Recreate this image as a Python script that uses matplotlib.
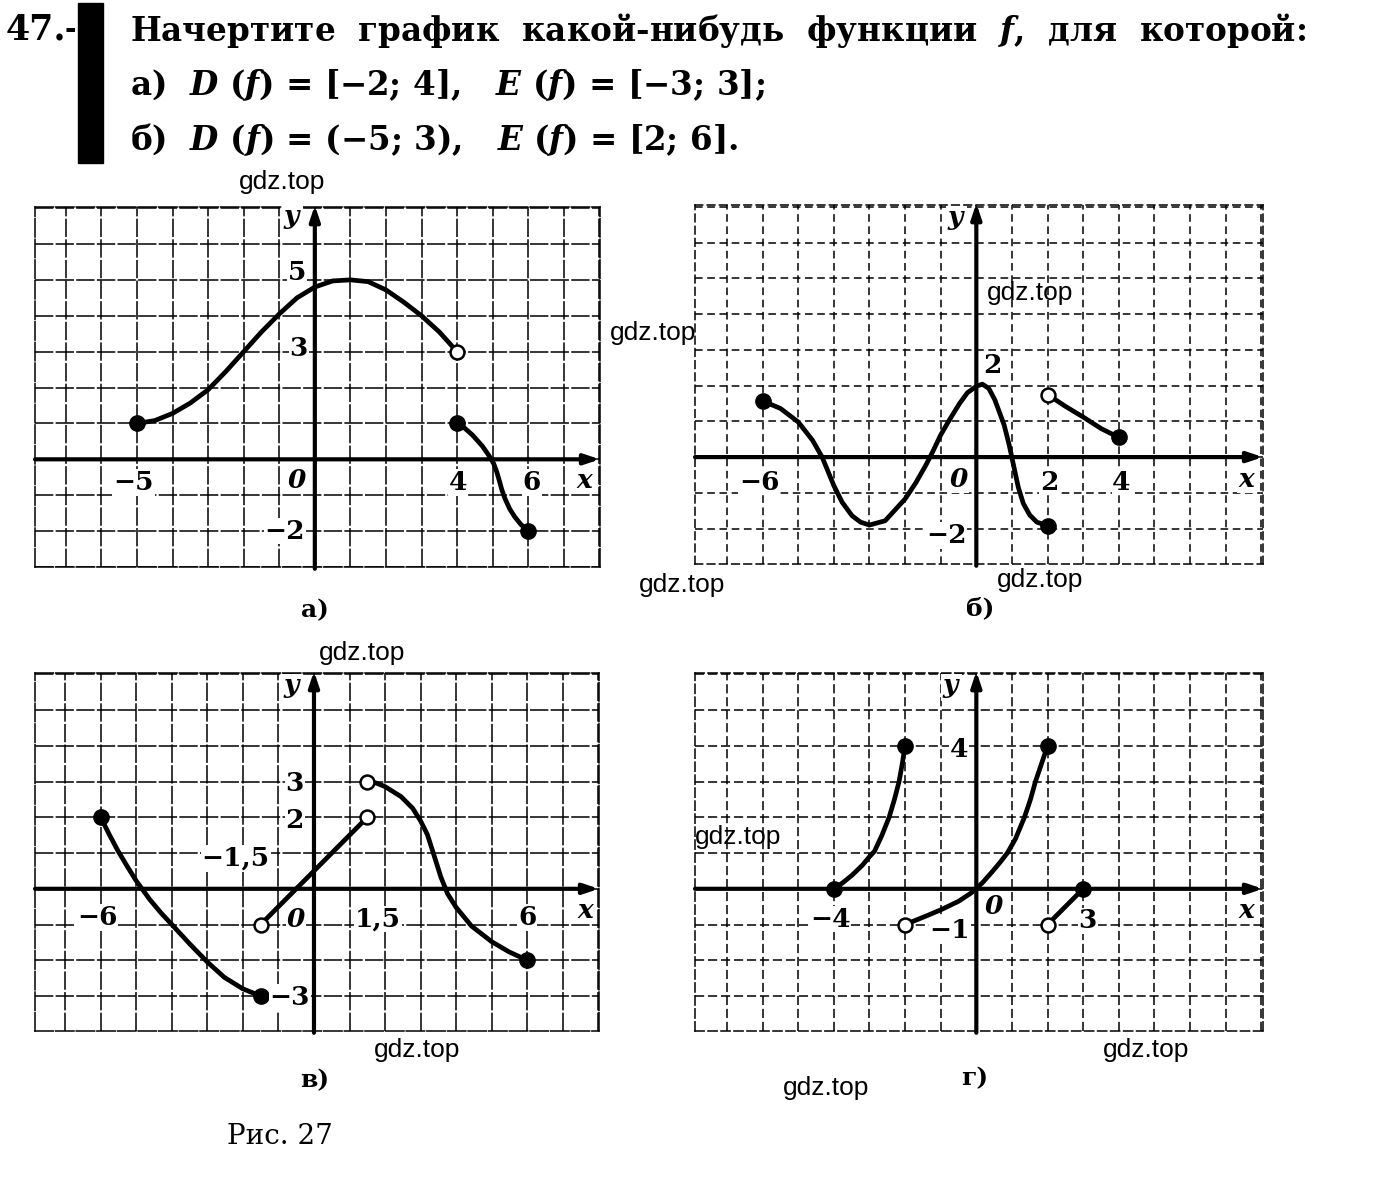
import numpy as np
import matplotlib.pyplot as plt

plt.rcParams['mathtext.fontset'] = 'custom'
plt.rcParams['mathtext.it'] = 'DejaVu Serif:italic:bold'
plt.rcParams['mathtext.rm'] = 'DejaVu Serif:bold'

W, H = 1373, 1178

# --- panel a) ---
a1_x = [-5, -4.5, -4, -3.5, -3, -2.5, -2, -1.5, -1, -0.5, 0, 0.5, 1, 1.5, 2, 2.5, 3, 3.5, 4]
a1_y = [1.0, 1.08, 1.28, 1.57, 1.94, 2.45, 3.0, 3.55, 4.05, 4.5, 4.8, 4.97, 5.0, 4.95, 4.72, 4.38, 4.0, 3.55, 3.0]
a2_x = [4, 4.2, 4.43, 4.71, 4.9, 5.03, 5.12, 5.19, 5.26, 5.35, 5.48, 5.62, 5.8, 6]
a2_y = [1.0, 0.88, 0.68, 0.37, 0.1, -0.12, -0.36, -0.6, -0.85, -1.1, -1.38, -1.6, -1.82, -2.0]
a_filled_x = [-5, 4, 6]
a_filled_y = [1, 1, -2]
a_open_x = [4]
a_open_y = [3]

# --- panel б) ---
b1_x = [-6, -5.5, -5, -4.6, -4.33, -4, -3.77, -3.49, -3.25, -3, -2.56, -2, -1.7, -1.42, -1.23, -1, -0.75,
        -0.47, -0.25, 0, 0.17, 0.35, 0.52, 0.78, 0.92, 1.05, 1.18, 1.32, 1.5, 1.7, 2]
b1_y = [1.57, 1.36, 0.98, 0.47, 0.0, -0.8, -1.26, -1.64, -1.82, -1.9, -1.78, -1.17, -0.72, -0.23, 0.14, 0.62,
        1.05, 1.5, 1.8, 1.98, 2.04, 1.92, 1.6, 0.9, 0.35, -0.25, -0.85, -1.3, -1.62, -1.82, -1.92]
b2_x = [2, 2.5, 3, 3.5, 4]
b2_y = [1.75, 1.42, 1.12, 0.8, 0.55]
b_filled_x = [-6, 2, 4]
b_filled_y = [1.57, -1.92, 0.55]
b_open_x = [2]
b_open_y = [1.75]

# --- panel в) ---
c1_x = [-6, -5.76, -5.52, -5.25, -5, -4.62, -4.3, -4, -3.47, -3, -2.52, -2, -1.5]
c1_y = [2.0, 1.52, 1.07, 0.62, 0.22, -0.3, -0.68, -1.0, -1.57, -2.05, -2.48, -2.8, -3.0]
c2_x = [-1.5, 1.5]
c2_y = [-1.0, 2.0]
c3_x = [1.5, 1.75, 2, 2.45, 2.78, 3, 3.19, 3.38, 3.57, 3.76, 4, 4.43, 5, 5.48, 6]
c3_y = [3.0, 2.96, 2.86, 2.58, 2.25, 1.9, 1.52, 0.93, 0.33, -0.14, -0.52, -1.04, -1.48, -1.76, -2.0]
c_filled_x = [-6, -1.5, 6]
c_filled_y = [2, -3, -2]
c_open_x = [-1.5, 1.5, 1.5]
c_open_y = [-1, 2, 3]

# --- panel г) ---
d1_x = [-4, -3.75, -3.48, -3.2, -3, -2.86, -2.65, -2.45, -2.3, -2.17, -2.08, -2]
d1_y = [0.0, 0.17, 0.39, 0.66, 0.9, 1.05, 1.5, 2.0, 2.5, 3.0, 3.5, 4.0]
d2_x = [-2, -1.43, -1, -0.5, -0.15, 0, 0.2, 0.43, 0.65, 0.87, 1.1, 1.35, 1.52, 1.66, 1.83, 2]
d2_y = [-1.0, -0.77, -0.59, -0.35, -0.12, 0.0, 0.2, 0.46, 0.72, 1.0, 1.4, 2.0, 2.5, 3.0, 3.5, 4.0]
d3_x = [2, 3]
d3_y = [-1, 0]
d_filled_x = [-4, -2, 2, 3]
d_filled_y = [0, 4, 4, 0]
d_open_x = [-2, 2]
d_open_y = [-1, -1]

a_labels = [('$y$', -0.62, 6.7), ('5', -0.5, 5.2), ('3', -0.45, 3.1), ('−2', -0.85, -2.0),
            ('0', -0.5, -0.6), ('−5', -5.1, -0.65), ('4', 4.03, -0.65), ('6', 6.1, -0.65), ('$x$', 7.6, -0.6)]
b_labels = [('$y$', -0.56, 6.65), ('2', 0.45, 2.56), ('−2', -0.85, -2.2), ('0', -0.5, -0.62),
            ('−6', -6.1, -0.7), ('2', 2.05, -0.7), ('4', 4.08, -0.7), ('$x$', 7.6, -0.62)]
c_labels = [('$y$', -0.6, 5.63), ('3', -0.54, 2.96), ('2', -0.54, 1.92), ('−1,5', -2.2, 0.85),
            ('0', -0.5, -0.85), ('1,5', 1.8, -0.85), ('−6', -6.1, -0.8), ('6', 6.0, -0.8),
            ('−3', -0.68, -3.05), ('$x$', 7.66, -0.62)]
d_labels = [('$y$', -0.7, 5.63), ('4', -0.48, 3.9), ('−4', -4.1, -0.85), ('−1', -0.75, -1.18),
            ('0', 0.48, -0.5), ('3', 3.13, -0.9), ('$x$', 7.6, -0.62)]

watermarks = [(282, 182), (653, 333), (1030, 293), (682, 585), (1040, 580),
              (362, 653), (738, 837), (417, 1050), (1146, 1050), (826, 1088)]

fig = plt.figure(figsize=(W / 100, H / 100), dpi=100)


def ftext(x, y, s, **kw):
    return fig.text(x / W, 1 - y / H, s, **kw)


def panel(x0, y0, x1, y1, xlim, ylim, dash, curves, filled, opened, labels):
    ax = fig.add_axes([x0 / W, 1 - y1 / H, (x1 - x0) / W, (y1 - y0) / H])
    ax.set_xlim(*xlim)
    ax.set_ylim(*ylim)
    for gx in range(int(np.ceil(xlim[0])), int(np.floor(xlim[1])) + 1):
        ax.axvline(gx, color='black', lw=1.1, ls=dash, zorder=1)
    for gy in range(int(np.ceil(ylim[0])), int(np.floor(ylim[1])) + 1):
        ax.axhline(gy, color='black', lw=1.1, ls=dash, zorder=1)
    for s in ax.spines.values():
        s.set_linewidth(1.1)
        s.set_linestyle(dash)
    ax.set_xticks([])
    ax.set_yticks([])
    # axes with arrows
    head = '-|>,head_length=0.9,head_width=0.3'
    ax.annotate('', xy=(xlim[1], 0), xytext=(xlim[0], 0),
                arrowprops=dict(arrowstyle=head, lw=3, color='black', shrinkA=0, shrinkB=0),
                annotation_clip=False, zorder=3)
    ax.annotate('', xy=(0, ylim[1] + 0.05), xytext=(0, ylim[0] - 0.05),
                arrowprops=dict(arrowstyle=head, lw=3, color='black', shrinkA=0, shrinkB=0),
                annotation_clip=False, zorder=3)
    for cx, cy in curves:
        ax.plot(cx, cy, color='black', lw=3.4, solid_capstyle='round', solid_joinstyle='round', zorder=4)
    ax.plot(filled[0], filled[1], 'o', ms=11, color='black', zorder=5)
    ax.plot(opened[0], opened[1], 'o', ms=10, mfc='white', mec='black', mew=1.8, zorder=5)
    for s, lx, ly in labels:
        style = 'italic' if s == '0' else 'normal'
        ax.text(lx, ly, s, fontsize=19, fontweight='bold', fontstyle=style, family='DejaVu Serif',
                ha='center', va='center', zorder=6,
                bbox=dict(fc='white', ec='none', pad=0.5))
    return ax


panel(35, 207, 600, 567, (-7.87, 8.02), (-3.0, 7.03), (0, (12, 1.5)),
      [(a1_x, a1_y), (a2_x, a2_y)], (a_filled_x, a_filled_y), (a_open_x, a_open_y), a_labels)
panel(695, 205, 1263, 564, (-7.9, 8.05), (-2.99, 7.05), (0, (5, 3)),
      [(b1_x, b1_y), (b2_x, b2_y)], (b_filled_x, b_filled_y), (b_open_x, b_open_y), b_labels)
panel(35, 673, 599, 1031, (-7.85, 8.02), (-3.98, 6.04), (0, (12, 1.5)),
      [(c1_x, c1_y), (c2_x, c2_y), (c3_x, c3_y)], (c_filled_x, c_filled_y), (c_open_x, c_open_y), c_labels)
panel(695, 673, 1263, 1031, (-7.9, 8.05), (-3.98, 6.04), (0, (6, 2.5)),
      [(d1_x, d1_y), (d2_x, d2_y), (d3_x, d3_y)], (d_filled_x, d_filled_y), (d_open_x, d_open_y), d_labels)

# header
ftext(6, 30, '47.', fontsize=25, fontweight='bold', family='DejaVu Serif', va='center')
ftext(64, 30, '-', fontsize=20, fontweight='bold', family='DejaVu Serif', va='center')
fig.patches.append(plt.Rectangle((78 / W, 1 - 163 / H), 25 / W, 160 / H, transform=fig.transFigure,
                                 color='black'))
title_kw = dict(fontsize=23.5, fontweight='bold', family='DejaVu Serif', va='center')
ftext(130, 30, 'Начертите  график  какой-нибудь  функции  $f$,  для  которой:', **title_kw)
ftext(130, 85, 'а)  $D\\ (f)$ = [−2; 4],   $E\\ (f)$ = [−3; 3];', **title_kw)
ftext(130, 140, 'б)  $D\\ (f)$ = (−5; 3),   $E\\ (f)$ = [2; 6].', **title_kw)

cap_kw = dict(fontsize=18, fontweight='bold', family='DejaVu Serif', ha='center', va='center')
ftext(315, 610, 'а)', **cap_kw)
ftext(980, 608, 'б)', **cap_kw)
ftext(315, 1080, 'в)', **cap_kw)
ftext(975, 1078, 'г)', **cap_kw)
ftext(280, 1137, 'Рис. 27', fontsize=20, family='DejaVu Serif', ha='center', va='center')

for wx, wy in watermarks:
    ftext(wx, wy, 'gdz.top', fontsize=19, family='Liberation Sans', ha='center', va='center', zorder=10)

fig.savefig('out.png', dpi=100, facecolor='white')
